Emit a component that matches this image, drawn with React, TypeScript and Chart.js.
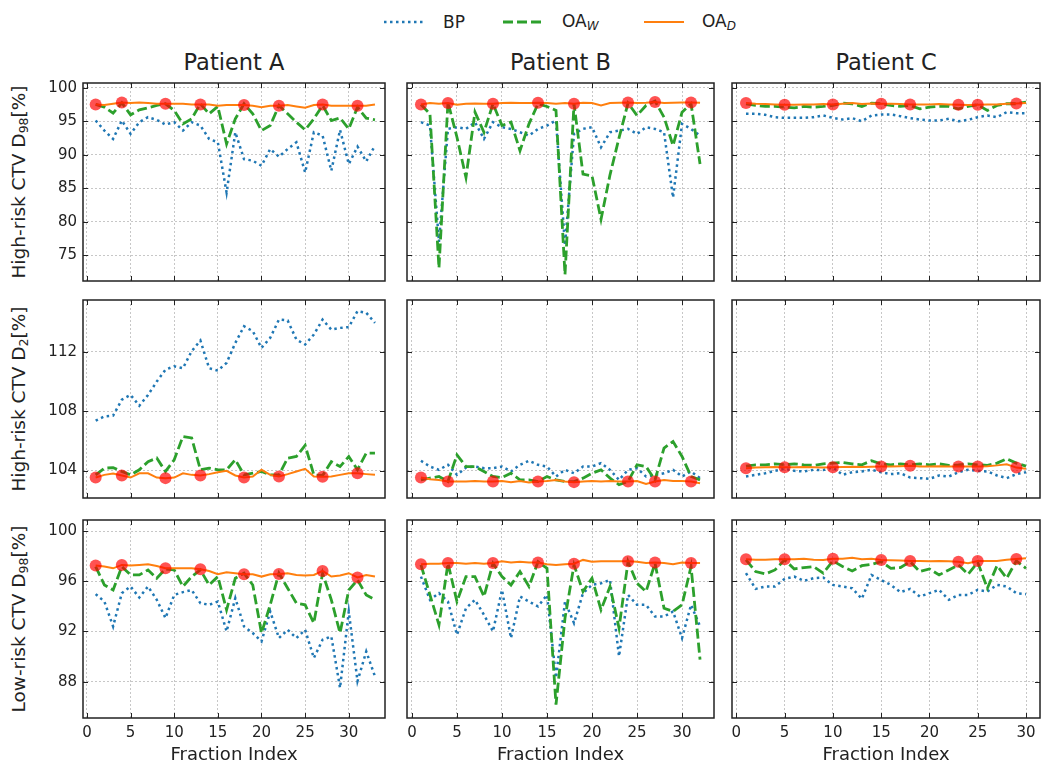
import React, { useEffect, useRef } from 'react';
import { Chart, registerables } from 'chart.js';
Chart.register(...registerables);

// ---------- data ----------
const markersA = [1, 4, 9, 13, 18, 22, 27, 31];
const markersB = [1, 4, 9, 14, 18, 24, 27, 31];
const markersC = [1, 5, 10, 15, 18, 23, 25, 29];

const A_HR98_BP = [95.1, 93.6, 92.35, 95.1, 93.1, 94.85, 95.6, 95.2, 94.5, 94.85, 93.6, 94.85, 94.35, 92.35, 91.85, 84.35, 93.35, 89.35, 89.1, 88.35, 90.85, 89.7, 90.85, 91.85, 87.35, 93.35, 92.85, 87.6, 93.7, 88.6, 91.2, 89.0, 91.35];
const A_HR98_OAW = [97.5, 97.1, 96.2, 97.75, 95.95, 96.7, 97.0, 97.35, 97.6, 96.6, 94.6, 95.35, 97.6, 96.1, 97.2, 91.6, 95.35, 97.6, 96.1, 93.6, 94.35, 97.35, 96.1, 94.85, 93.7, 95.35, 97.35, 95.1, 95.5, 93.85, 97.1, 95.45, 95.2];
const A_HR98_OAD = [97.5, 97.4, 97.6, 97.8, 97.7, 97.8, 97.7, 97.6, 97.6, 97.6, 97.6, 97.5, 97.5, 97.5, 97.3, 97.4, 97.4, 97.4, 97.3, 97.1, 97.3, 97.3, 97.4, 97.2, 97.0, 97.4, 97.5, 97.3, 97.3, 97.3, 97.3, 97.3, 97.5];

const A_HR2_BP = [107.36, 107.65, 107.7, 108.78, 109.1, 108.37, 109.1, 110.0, 110.8, 111.03, 110.9, 112.05, 112.77, 110.9, 110.74, 111.26, 112.6, 113.73, 113.4, 112.27, 112.95, 114.18, 114.12, 112.83, 112.5, 113.17, 114.18, 113.5, 113.62, 113.67, 114.75, 114.64, 113.96];
const A_HR2_OAW = [103.71, 104.16, 104.2, 103.94, 103.71, 104.05, 104.6, 104.84, 103.94, 104.73, 106.3, 106.2, 104.05, 104.16, 104.05, 104.05, 104.73, 103.71, 103.82, 103.94, 103.71, 103.71, 104.84, 104.95, 105.7, 103.71, 103.67, 104.6, 104.27, 104.95, 104.05, 105.18, 105.18];
const A_HR2_OAD = [103.53, 103.71, 103.8, 103.67, 103.53, 103.82, 103.82, 103.53, 103.49, 103.53, 103.82, 103.71, 103.67, 103.76, 103.89, 103.98, 103.67, 103.53, 103.6, 104.05, 103.71, 103.6, 103.76, 103.94, 104.12, 103.6, 103.58, 103.6, 103.71, 103.82, 103.82, 103.76, 103.71];

const A_LR98_BP = [94.97, 94.38, 92.4, 95.05, 95.58, 94.7, 95.58, 94.52, 93.06, 94.91, 95.13, 95.3, 94.25, 94.12, 94.38, 92.0, 94.65, 92.4, 91.87, 91.2, 93.59, 91.47, 92.13, 91.47, 92.13, 89.88, 91.34, 91.6, 87.5, 93.59, 88.03, 90.4, 88.42];
const A_LR98_OAW = [97.17, 95.7, 95.3, 97.17, 96.5, 96.5, 96.9, 96.24, 96.98, 96.9, 95.58, 96.37, 96.9, 95.7, 96.37, 93.72, 96.24, 96.64, 95.7, 91.87, 94.12, 96.64, 95.44, 94.25, 94.12, 92.66, 96.64, 94.52, 91.87, 95.3, 96.1, 94.9, 94.52];
const A_LR98_OAD = [97.25, 97.17, 97.03, 97.3, 97.25, 97.3, 97.35, 97.22, 97.03, 97.03, 97.03, 97.03, 96.95, 96.82, 96.56, 96.72, 96.64, 96.56, 96.56, 96.37, 96.56, 96.58, 96.64, 96.5, 96.45, 96.5, 96.82, 96.37, 96.45, 96.64, 96.3, 96.5, 96.37];

const B_HR98_BP = [94.85, 94.35, 77.0, 93.85, 94.1, 93.85, 94.85, 92.35, 94.85, 94.1, 93.85, 93.35, 92.85, 93.85, 94.35, 95.1, 76.5, 93.1, 93.85, 94.1, 91.1, 93.35, 93.6, 93.85, 93.1, 94.1, 93.85, 93.35, 83.6, 94.6, 93.85, 92.85];
const B_HR98_OAW = [97.5, 96.1, 73.1, 97.85, 92.6, 86.6, 96.35, 93.35, 97.6, 94.35, 94.85, 90.6, 94.6, 97.6, 97.2, 96.6, 72.1, 97.6, 87.1, 86.85, 80.35, 87.0, 92.5, 97.7, 95.85, 97.35, 98.0, 95.6, 91.35, 96.35, 97.6, 88.6];
const B_HR98_OAD = [97.5, 97.7, 97.6, 97.7, 97.45, 97.6, 97.65, 97.6, 97.6, 97.7, 97.75, 97.7, 97.7, 97.75, 97.7, 97.6, 97.7, 97.6, 97.75, 97.7, 97.35, 97.7, 97.75, 97.8, 97.7, 97.75, 97.85, 97.7, 97.75, 97.8, 97.8, 97.75];

const B_HR2_BP = [104.66, 104.27, 104.05, 104.39, 103.71, 104.2, 104.27, 104.16, 104.16, 104.27, 103.94, 104.39, 104.66, 104.39, 104.27, 103.6, 104.05, 103.82, 104.27, 104.27, 104.5, 104.05, 103.37, 104.05, 104.16, 103.6, 103.71, 103.82, 104.05, 103.6, 103.94, 103.49];
const B_HR2_OAW = [103.37, 103.49, 103.6, 103.26, 105.06, 104.27, 104.27, 103.94, 103.6, 103.53, 103.82, 103.37, 103.37, 103.26, 103.6, 103.37, 103.26, 103.26, 103.49, 103.82, 104.05, 103.49, 103.04, 103.26, 104.39, 104.27, 103.37, 105.52, 105.96, 104.95, 103.6, 103.37];
const B_HR2_OAD = [103.53, 103.42, 103.37, 103.26, 103.26, 103.26, 103.3, 103.26, 103.26, 103.3, 103.22, 103.3, 103.2, 103.26, 103.3, 103.37, 103.26, 103.22, 103.26, 103.3, 103.26, 103.3, 103.26, 103.26, 103.3, 103.1, 103.26, 103.37, 103.3, 103.3, 103.26, 103.15];

const B_LR98_BP = [96.37, 94.52, 95.05, 94.38, 91.73, 93.85, 94.52, 93.32, 92.0, 95.31, 91.47, 94.78, 94.38, 93.99, 94.91, 88.3, 94.38, 92.66, 95.05, 95.71, 95.84, 96.1, 90.01, 94.91, 94.12, 94.12, 93.19, 93.19, 93.59, 91.47, 94.12, 92.4];
const B_LR98_OAW = [97.3, 94.91, 92.53, 97.43, 94.38, 96.37, 96.37, 94.78, 97.43, 96.37, 95.7, 96.77, 95.58, 97.56, 97.03, 86.17, 93.06, 97.3, 95.18, 96.24, 93.72, 95.58, 92.27, 97.56, 95.84, 95.18, 97.43, 93.85, 93.59, 94.12, 97.17, 89.75];
const B_LR98_OAD = [97.35, 97.4, 97.4, 97.45, 97.45, 97.4, 97.45, 97.4, 97.45, 97.6, 97.5, 97.55, 97.5, 97.5, 97.35, 97.3, 97.35, 97.4, 97.7, 97.55, 97.6, 97.6, 97.6, 97.6, 97.55, 97.45, 97.5, 97.45, 97.35, 97.5, 97.45, 97.45];

const C_HR98_BP = [96.1, 96.1, 95.95, 95.6, 95.5, 95.5, 95.5, 95.6, 95.85, 95.5, 95.25, 95.45, 95.0, 95.85, 96.0, 96.0, 95.75, 95.45, 95.25, 95.1, 95.1, 95.35, 95.0, 95.2, 95.6, 95.85, 95.6, 96.35, 96.2, 96.2];
const C_HR98_OAW = [97.6, 97.35, 97.2, 97.2, 97.1, 97.0, 97.2, 97.1, 97.2, 97.35, 97.7, 97.6, 97.2, 97.7, 97.6, 97.35, 97.2, 97.35, 96.85, 97.1, 97.2, 97.2, 96.85, 97.2, 97.45, 96.6, 97.35, 97.6, 97.6, 97.85];
const C_HR98_OAD = [97.7, 97.6, 97.55, 97.5, 97.45, 97.45, 97.5, 97.5, 97.55, 97.5, 97.6, 97.7, 97.55, 97.65, 97.6, 97.6, 97.55, 97.5, 97.5, 97.5, 97.55, 97.5, 97.45, 97.4, 97.45, 97.5, 97.5, 97.6, 97.65, 97.7];

const C_HR2_BP = [103.6, 103.71, 103.82, 103.98, 104.12, 103.98, 103.94, 104.05, 104.03, 104.21, 103.71, 103.89, 103.94, 104.05, 103.89, 103.76, 103.82, 103.53, 103.49, 103.44, 103.67, 103.6, 103.89, 104.05, 103.98, 103.94, 103.67, 103.49, 103.76, 103.89];
const C_HR2_OAW = [104.3, 104.39, 104.39, 104.45, 104.39, 104.45, 104.39, 104.35, 104.45, 104.5, 104.55, 104.45, 104.39, 104.66, 104.45, 104.39, 104.45, 104.39, 104.45, 104.39, 104.45, 104.35, 104.39, 104.45, 104.39, 104.35, 104.5, 104.8, 104.5, 104.3];
const C_HR2_OAD = [104.16, 104.2, 104.22, 104.24, 104.22, 104.22, 104.24, 104.22, 104.2, 104.22, 104.24, 104.26, 104.24, 104.26, 104.27, 104.27, 104.29, 104.32, 104.27, 104.27, 104.29, 104.27, 104.27, 104.27, 104.27, 104.29, 104.35, 104.43, 104.2, 104.12];

const C_LR98_BP = [96.64, 95.39, 95.58, 95.58, 96.19, 96.37, 96.03, 96.24, 96.29, 95.71, 95.58, 95.44, 94.6, 96.5, 96.1, 95.71, 95.13, 95.39, 94.78, 95.05, 95.31, 94.52, 94.91, 94.91, 95.31, 95.18, 95.71, 95.58, 95.05, 94.97];
const C_LR98_OAW = [97.7, 96.77, 96.58, 96.9, 97.7, 96.98, 97.09, 97.17, 96.64, 97.62, 97.17, 96.82, 97.24, 97.35, 97.56, 97.03, 97.09, 97.56, 96.77, 96.98, 96.5, 96.9, 97.3, 96.56, 97.51, 95.44, 97.24, 96.24, 97.62, 97.03];
const C_LR98_OAD = [97.75, 97.72, 97.72, 97.75, 97.75, 97.75, 97.8, 97.72, 97.7, 97.8, 97.8, 97.88, 97.75, 97.8, 97.7, 97.68, 97.65, 97.62, 97.62, 97.6, 97.62, 97.6, 97.56, 97.43, 97.62, 97.62, 97.62, 97.72, 97.78, 97.83];

const patientTitles = ['Patient A', 'Patient B', 'Patient C'];
const xLimits = [[-0.45, 34.15], [-0.55, 33.55], [-0.45, 31.45]];
const yLimits = [[71.15, 100.7], [102.15, 115.5], [85.1, 100.88]];
const yStepSizes = [5, 4, 4];
const xStepSize = 5;

// ---------- styles / geometry ----------
const BLUE = '#1f77b4';
const GREEN = '#2ca02c';
const ORANGE = '#ff7f0e';
const MARKER = 'rgba(255,0,0,0.68)';
const TEXT = '#222';
const FONT = 'DejaVu Sans';

const plotL = [83, 407, 732];
const plotR = [385, 714, 1040];
const plotT = [83, 300, 520];
const plotB = [281, 498, 718];

type PanelData = { bp: number[]; oaw: number[]; oad: number[]; markers: number[] };
const panels: PanelData[][] = [
  [
    { bp: A_HR98_BP, oaw: A_HR98_OAW, oad: A_HR98_OAD, markers: markersA },
    { bp: B_HR98_BP, oaw: B_HR98_OAW, oad: B_HR98_OAD, markers: markersB },
    { bp: C_HR98_BP, oaw: C_HR98_OAW, oad: C_HR98_OAD, markers: markersC },
  ],
  [
    { bp: A_HR2_BP, oaw: A_HR2_OAW, oad: A_HR2_OAD, markers: markersA },
    { bp: B_HR2_BP, oaw: B_HR2_OAW, oad: B_HR2_OAD, markers: markersB },
    { bp: C_HR2_BP, oaw: C_HR2_OAW, oad: C_HR2_OAD, markers: markersC },
  ],
  [
    { bp: A_LR98_BP, oaw: A_LR98_OAW, oad: A_LR98_OAD, markers: markersA },
    { bp: B_LR98_BP, oaw: B_LR98_OAW, oad: B_LR98_OAD, markers: markersB },
    { bp: C_LR98_BP, oaw: C_LR98_OAW, oad: C_LR98_OAD, markers: markersC },
  ],
];

const toPts = (arr: number[]) => arr.map((v, i) => ({ x: i + 1, y: v }));

const framePlugin = {
  id: 'frameTicks',
  afterDraw(chart: any) {
    const { ctx, chartArea: a, scales } = chart;
    const xs = scales.x;
    const ys = scales.y;
    ctx.save();
    ctx.strokeStyle = '#222';
    ctx.lineWidth = 1;
    const L = 5;
    ctx.beginPath();
    for (const t of xs.ticks) {
      const p = Math.round(xs.getPixelForValue(t.value)) + 0.5;
      ctx.moveTo(p, a.bottom); ctx.lineTo(p, a.bottom - L);
      ctx.moveTo(p, a.top); ctx.lineTo(p, a.top + L);
    }
    for (const t of ys.ticks) {
      const p = Math.round(ys.getPixelForValue(t.value)) + 0.5;
      ctx.moveTo(a.left, p); ctx.lineTo(a.left + L, p);
      ctx.moveTo(a.right, p); ctx.lineTo(a.right - L, p);
    }
    ctx.stroke();
    ctx.lineWidth = 1.5;
    ctx.strokeRect(a.left, a.top, a.right - a.left, a.bottom - a.top);
    ctx.restore();
  },
};

function Panel({ r, c }: { r: number; c: number }) {
  const ref = useRef<HTMLCanvasElement>(null);
  const padL = c === 0 ? 70 : 10;
  const padR = 10;
  const padT = 20;
  const padB = r === 2 ? 771 - plotB[2] : 20;
  const W = plotR[c] - plotL[c] + padL + padR;
  const H = plotB[r] - plotT[r] + padT + padB;
  useEffect(() => {
    const d = panels[r][c];
    const tickFont = { family: FONT, size: 15 };
    const chart = new Chart(ref.current as HTMLCanvasElement, {
      type: 'line',
      data: {
        datasets: [
          {
            label: 'markers',
            data: d.markers.map((i) => ({ x: i, y: d.oad[i - 1] })),
            showLine: false,
            pointRadius: 6,
            pointHoverRadius: 6,
            pointBackgroundColor: MARKER,
            pointBorderWidth: 0,
            borderColor: MARKER,
          },
          { label: 'OA_D', data: toPts(d.oad), borderColor: ORANGE, borderWidth: 2, pointRadius: 0, tension: 0, fill: false },
          { label: 'OA_W', data: toPts(d.oaw), borderColor: GREEN, borderWidth: 2.8, borderDash: [10, 4], pointRadius: 0, tension: 0, fill: false },
          { label: 'BP', data: toPts(d.bp), borderColor: BLUE, borderWidth: 2.5, borderDash: [2.5, 3.5], pointRadius: 0, tension: 0, fill: false },
        ] as any,
      },
      options: {
        responsive: false,
        animation: false,
        events: [],
        layout: { padding: { left: 0, right: padR, top: padT, bottom: 0 } },
        plugins: { legend: { display: false }, tooltip: { enabled: false } },
        scales: {
          x: {
            type: 'linear',
            min: xLimits[c][0],
            max: xLimits[c][1],
            afterFit: (s: any) => { s.height = padB; },
            ticks: { display: r === 2, stepSize: xStepSize, includeBounds: false, font: tickFont, color: TEXT, padding: 6, maxRotation: 0, autoSkip: false },
            grid: { color: 'rgba(0,0,0,0.22)', lineWidth: 1, drawTicks: false },
            border: { display: false, dash: [2, 2] },
            title: { display: r === 2, text: 'Fraction Index', font: { family: FONT, size: 18 }, color: TEXT, padding: { top: 0, bottom: 5 } },
          },
          y: {
            type: 'linear',
            min: yLimits[r][0],
            max: yLimits[r][1],
            afterFit: (s: any) => { s.width = padL; },
            ticks: { display: c === 0, stepSize: yStepSizes[r], includeBounds: false, font: tickFont, color: TEXT, padding: 6, autoSkip: false },
            grid: { color: 'rgba(0,0,0,0.22)', lineWidth: 1, drawTicks: false },
            border: { display: false, dash: [2, 2] },
          },
        },
      } as any,
      plugins: [framePlugin],
    });
    return () => chart.destroy();
  }, [r, c]);
  return (
    <canvas
      ref={ref}
      width={W}
      height={H}
      style={{ position: 'absolute', left: plotL[c] - padL, top: plotT[r] - padT, width: W, height: H }}
    />
  );
}

const rowLabels = [
  ['High-risk CTV D', '98', '[%]'],
  ['High-risk CTV D', '2', '[%]'],
  ['Low-risk CTV D', '98', '[%]'],
];

function LegendItem({ x, textX, label, sub, color, dash, width }: any) {
  return (
    <>
      <svg style={{ position: 'absolute', left: x, top: 16 }} width={40} height={12}>
        <line x1={0} y1={6} x2={40} y2={6} stroke={color} strokeWidth={width} strokeDasharray={dash} />
      </svg>
      <div style={{ position: 'absolute', left: textX, top: 22, transform: 'translateY(-50%)', fontSize: 17, lineHeight: 1, color: TEXT, whiteSpace: 'nowrap' }}>
        {label}
        {sub ? <sub style={{ fontSize: 12, fontStyle: 'italic', verticalAlign: '-0.25em' }}>{sub}</sub> : null}
      </div>
    </>
  );
}

export default function App() {
  const cells: React.ReactNode[] = [];
  for (let r = 0; r < 3; r++) for (let c = 0; c < 3; c++) cells.push(<Panel key={`${r}-${c}`} r={r} c={c} />);
  return (
    <div style={{ position: 'fixed', left: 0, top: 0, width: 1050, height: 771, background: '#fff', fontFamily: FONT, overflow: 'hidden' }}>
      <LegendItem x={384} textX={443} label="BP" color={BLUE} dash="2.5 3.5" width={2.5} />
      <LegendItem x={503} textX={562} label="OA" sub="W" color={GREEN} dash="10 4" width={2.8} />
      <LegendItem x={644} textX={702} label="OA" sub="D" color={ORANGE} dash="none" width={2} />
      {patientTitles.map((t, c) => (
        <div key={t} style={{ position: 'absolute', left: (plotL[c] + plotR[c]) / 2, top: 62, transform: 'translate(-50%,-50%)', fontSize: 22.5, lineHeight: 1, color: TEXT, whiteSpace: 'nowrap' }}>
          {t}
        </div>
      ))}
      {rowLabels.map((lab, r) => (
        <div key={r} style={{ position: 'absolute', left: 20, top: (plotT[r] + plotB[r]) / 2, transform: 'translate(-50%,-50%) rotate(-90deg)', fontSize: 18.5, lineHeight: 1, color: TEXT, whiteSpace: 'nowrap' }}>
          {lab[0]}
          <sub style={{ fontSize: 12.5, verticalAlign: '-0.2em' }}>{lab[1]}</sub>
          {lab[2]}
        </div>
      ))}
      {cells}
    </div>
  );
}
